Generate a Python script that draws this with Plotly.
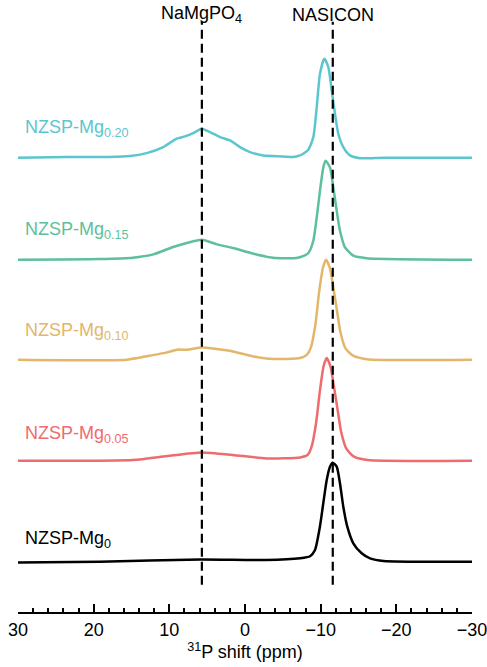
import plotly.graph_objects as go

# ---- data (ppm, intensity a.u.) ----
samples = ["NZSP-Mg<sub>0</sub>", "NZSP-Mg<sub>0.05</sub>", "NZSP-Mg<sub>0.10</sub>",
           "NZSP-Mg<sub>0.15</sub>", "NZSP-Mg<sub>0.20</sub>"]
colors = ["#000000", "#EE6B6E", "#E2B66B", "#5DBF9C", "#5CC6CF"]

ppm_mg0 = [30, 19.2, 5.9, -2.8, -7.3, -8.6, -9.25, -9.9, -10.35, -10.8, -11.23, -11.59,
           -12.12, -12.55, -12.99, -13.52, -14.31, -15.42, -16.52, -18.3, -30]
int_mg0 = [-0.7, 0, 2.3, 1.7, 3.5, 5.5, 11.7, 35, 58.7, 81.7, 95, 99,
           95, 78.4, 55, 35, 18.4, 8.4, 3.4, 0.7, 0]

ppm_mg005 = [30, 14.8, 10.3, 5.7, 1.6, -2.8, -7.3, -8.3, -8.8, -9.4, -9.9, -10.4, -10.8,
             -11.3, -11.8, -12.3, -12.7, -13.4, -14.4, -16.2, -30]
int_mg005 = [0, 0.7, 4.7, 8.3, 5.7, 2.3, 3.3, 6, 14, 38, 70, 95, 102.7,
             94, 72, 48, 29, 12, 4, 0.7, 0]

ppm_mg010 = [30, 15.6, 12.6, 10.3, 9.0, 7.7, 5.7, 3.7, 1.6, -1.1, -3.7, -7.3, -8.2, -8.7,
             -9.3, -9.8, -10.3, -10.7, -11.2, -11.7, -12.2, -12.6, -13.3, -14.3, -16.1, -30]
int_mg010 = [0, 0, 4, 7.3, 10, 10, 12.3, 10.7, 8.3, 3.3, 0.7, 1.7, 5, 12,
             35, 68, 92, 100, 92, 71, 47, 28, 11, 4, 0.5, 0]

ppm_mg015 = [30, 19.2, 14.8, 12.1, 9.5, 7.7, 5.7, 3.7, 1.6, -1.1, -3.7, -6.8, -7.9, -8.4,
             -9.03, -9.48, -9.91, -10.35, -10.65, -11.23, -11.67, -12.12, -12.55, -13.22,
             -14.31, -16.08, -30]
int_mg015 = [0, 0.7, 2, 5.3, 12.7, 16.7, 20, 15.3, 11.7, 6, 2, 1.7, 4.3, 7,
             19, 42.3, 69, 92.3, 99, 92.3, 72.3, 49, 29, 12.3,
             4, 1.5, 0]

ppm_mg020 = [30, 23.6, 18, 15.2, 13.0, 10.8, 9.03, 7.93, 6.83, 5.72, 4.63, 3.30, 1.98, 0.66,
             -0.66, -2.42, -5.06, -6.38, -7.27, -7.70, -8.37, -9.03, -9.48, -9.91, -10.48,
             -11.01, -11.46, -11.89, -12.33, -12.99, -13.88, -15.2, -18.3, -24.8, -30]
int_mg020 = [0, 0.7, 0.7, 1.6, 4.6, 10.6, 19, 21.3, 24.6, 29, 25.6, 20.6, 17.3, 10.6,
             5.6, 2.3, 1.3, 0.6, 2.3, 4, 8, 20.6, 50.6, 84, 99,
             90.6, 67.3, 44, 24, 10.6, 2.3, -0.5, 0, 0, 0]

ppm_all = [ppm_mg0, ppm_mg005, ppm_mg010, ppm_mg015, ppm_mg020]
int_all = [int_mg0, int_mg005, int_mg010, int_mg015, int_mg020]

ref_ppm = [5.7, -11.6]
ref_names = ["NaMgPO<sub>4</sub>", "NASICON"]

# ---- layout helpers ----
offsets = [0, 101, 202, 302, 404]
label_dy = [22, 26, 28.5, 29.3, 28.8]
FONT = "Arial, Liberation Sans, sans-serif"

fig = go.Figure()
for name, col, xs, ys, off in zip(samples, colors, ppm_all, int_all, offsets):
    fig.add_trace(go.Scatter(
        x=xs, y=[v + off for v in ys], mode="lines",
        line=dict(color=col, width=2.5, shape="spline", smoothing=0.6),
        showlegend=False, hoverinfo="skip"))

for name, col, off, dy in zip(samples, colors, offsets, label_dy):
    fig.add_annotation(x=29.4, y=off + dy, xref="x", yref="y", text=name,
                       showarrow=False, xanchor="left", yanchor="middle",
                       font=dict(family=FONT, size=18, color=col))

for xp, nm in zip(ref_ppm, ref_names):
    fig.add_shape(type="line", x0=xp, x1=xp, y0=-23, y1=540, xref="x", yref="y",
                  line=dict(color="black", width=2.2, dash="9px,5px"), layer="above")
    fig.add_annotation(x=xp, y=547, xref="x", yref="y", text=nm, showarrow=False,
                       xanchor="center", yanchor="middle",
                       font=dict(family=FONT, size=18, color="black"))

fig.update_layout(
    width=487, height=667,
    margin=dict(l=18, r=15, t=0, b=55),
    paper_bgcolor="white", plot_bgcolor="white",
    font=dict(family=FONT, size=18, color="black"),
    xaxis=dict(range=[30, -30], showgrid=False, zeroline=False,
               showline=True, linecolor="black", linewidth=2,
               ticks="inside", ticklen=8, tickwidth=2, tickcolor="black",
               tickmode="array", tickvals=[30, 20, 10, 0, -10, -20, -30],
               ticktext=["30", "20", "10", "0", "\u221210", "\u221220", "\u221230"],
               ticklabeloverflow="allow",
               minor=dict(ticks="inside", ticklen=4, tickwidth=1.5, dtick=2,
                          tickcolor="black", showgrid=False),
               tickfont=dict(size=18), title=dict(text="<sup>31</sup>P shift (ppm)",
                                                  font=dict(size=18), standoff=2)),
    yaxis=dict(range=[-50.3, 561.7], visible=False, showgrid=False, zeroline=False),
)

fig.write_html("out.html")
